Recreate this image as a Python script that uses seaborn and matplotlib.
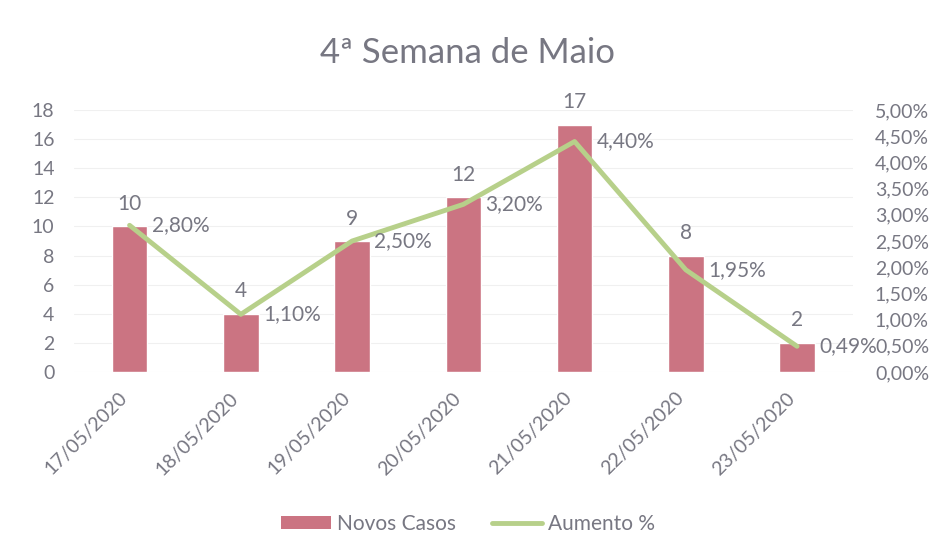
import matplotlib
matplotlib.use("Agg")
import matplotlib.pyplot as plt
import matplotlib.transforms as mtransforms
import seaborn as sns
import pandas as pd
from matplotlib.ticker import FuncFormatter, MultipleLocator
from matplotlib.patches import Patch
from matplotlib.lines import Line2D

dates = ["17/05/2020", "18/05/2020", "19/05/2020", "20/05/2020",
         "21/05/2020", "22/05/2020", "23/05/2020"]
novos_casos = [10, 4, 9, 12, 17, 8, 2]
aumento_pct = [2.80, 1.10, 2.50, 3.20, 4.40, 1.95, 0.49]

sns.set_theme(style="white")
plt.rcParams['font.family'] = ['Lato', 'DejaVu Sans']

txt = '#777782'
bar_color = '#CB7482'
line_color = '#B7D08A'

df = pd.DataFrame({"data": dates, "casos": novos_casos, "pct": aumento_pct})

fig = plt.figure(figsize=(9.36, 5.56), dpi=100)
ax = fig.add_axes([0.079, 0.331, 0.832, 0.471])

sns.barplot(data=df, x="data", y="casos", color=bar_color, width=0.32,
            saturation=1, ax=ax)
ax.set_ylim(0, 18)
ax.set_xlim(-0.5, 6.5)
ax.yaxis.set_major_locator(MultipleLocator(2))
ax.grid(axis='y', color='#f0f0f0', linewidth=0.8)
ax.set_axisbelow(True)
for s in ax.spines.values():
    s.set_visible(False)
ax.set_xlabel("")
ax.set_ylabel("")
ax.tick_params(axis='y', labelsize=14, labelcolor=txt, length=0, pad=14)
ax.tick_params(axis='x', labelsize=14, labelcolor=txt, length=0, pad=6)
offset = mtransforms.ScaledTranslation(-0.11, -0.09, fig.dpi_scale_trans)
for lab in ax.get_xticklabels():
    lab.set_rotation(45)
    lab.set_ha('right')
    lab.set_rotation_mode('anchor')
    lab.set_transform(lab.get_transform() + offset)

for i, v in enumerate(novos_casos):
    ax.annotate(str(v), (i, v), xytext=(0, 9), textcoords='offset points',
                ha='center', va='bottom', fontsize=15, color=txt)

ax2 = ax.twinx()
sns.lineplot(x=list(range(len(dates))), y=aumento_pct, ax=ax2, color=line_color,
             linewidth=3.5, legend=False)
ax2.set_ylim(0, 5)
ax2.yaxis.set_major_locator(MultipleLocator(0.5))
ax2.yaxis.set_major_formatter(FuncFormatter(lambda v, p: f"{v:.2f}%".replace('.', ',')))
ax2.tick_params(axis='y', labelsize=14, labelcolor=txt, length=0, pad=16)
for s in ax2.spines.values():
    s.set_visible(False)
ax2.set_ylabel("")
ax2.grid(False)

for i, v in enumerate(aumento_pct):
    ax2.annotate(f"{v:.2f}%".replace('.', ','), (i, v), xytext=(16, 0),
                 textcoords='offset points', ha='left', va='center',
                 fontsize=15, color=txt)

fig.text(0.5, 0.905, "4ª Semana de Maio", ha='center', va='center',
         fontsize=25, color=txt)

handles = [Patch(facecolor=bar_color, edgecolor='none', label="Novos Casos"),
           Line2D([0], [0], color=line_color, linewidth=3.5, label="Aumento %")]
fig.legend(handles=handles, loc='center', bbox_to_anchor=(0.5, 0.058), ncol=2,
           frameon=False, fontsize=15, labelcolor=txt, handlelength=2.4,
           handleheight=0.6, columnspacing=1.7, handletextpad=0.3)

fig.savefig("out.png", dpi=100, facecolor='white')
